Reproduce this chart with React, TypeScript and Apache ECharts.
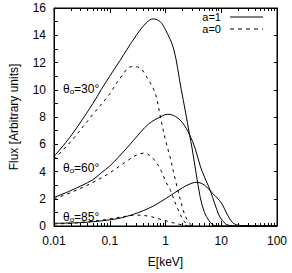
import React, { useEffect, useRef } from 'react';
import * as echarts from 'echarts';

// Energies (keV) and flux values
const e30a1 = [0.01, 0.02, 0.05, 0.07, 0.1, 0.15, 0.2, 0.3, 0.45, 0.6, 0.8, 1, 1.4, 1.9, 2.3, 2.7, 3, 3.5, 4.2, 5, 6, 7, 8, 10, 100];
const f30a1 = [5.1, 6.6, 9.0, 10.0, 11.0, 12.1, 12.9, 14.0, 14.9, 15.2, 15.0, 14.4, 13.0, 10.1, 8.3, 6.7, 5.7, 4.0, 2.1, 1.0, 0.4, 0.1, 0.02, 0, 0];

const e30a0 = [0.01, 0.02, 0.05, 0.1, 0.15, 0.25, 0.35, 0.45, 0.62, 0.7, 0.81, 1.0, 1.2, 1.5, 2.1, 2.5, 3, 3.5];
const f30a0 = [4.9, 6.2, 8.2, 9.7, 10.8, 11.7, 11.6, 11.0, 10.0, 9.3, 8.0, 6.3, 5.1, 3.4, 1.1, 0.4, 0.05, 0];

const e60a1 = [0.01, 0.02, 0.05, 0.07, 0.1, 0.2, 0.36, 0.5, 0.8, 1.1, 1.5, 2, 2.7, 3.4, 4.2, 5, 6, 7, 8, 9.5, 12, 15, 20, 100];
const f60a1 = [2.1, 2.6, 3.4, 3.9, 4.4, 5.7, 6.9, 7.5, 8.0, 8.2, 8.05, 7.6, 6.7, 5.7, 4.4, 3.6, 2.85, 2.1, 1.4, 0.65, 0.15, 0.03, 0, 0];

const e60a0 = [0.01, 0.02, 0.05, 0.1, 0.2, 0.3, 0.42, 0.55, 0.7, 0.85, 1.0, 1.23, 1.6, 2.1, 2.5, 3];
const f60a0 = [2.0, 2.45, 3.2, 3.9, 4.75, 5.2, 5.35, 5.1, 4.6, 4.0, 3.3, 2.6, 1.4, 0.4, 0.12, 0];

const e85a1 = [0.01, 0.03, 0.1, 0.2, 0.5, 1, 2, 3, 3.7, 5, 7, 10, 13, 16, 20, 30, 100];
const f85a1 = [0.2, 0.25, 0.45, 0.7, 1.3, 2.0, 2.8, 3.15, 3.2, 3.0, 2.4, 1.7, 0.8, 0.25, 0.06, 0, 0];

const e85a0 = [0.01, 0.02, 0.05, 0.1, 0.2, 0.3, 0.5, 0.8, 1.2, 1.8, 2.5, 3];
const f85a0 = [0.15, 0.2, 0.35, 0.52, 0.72, 0.8, 0.72, 0.5, 0.3, 0.12, 0.03, 0];

const xMajor = [0.01, 0.1, 1, 10, 100];
const xMinor = [0.02, 0.03, 0.04, 0.05, 0.06, 0.07, 0.08, 0.09, 0.2, 0.3, 0.4, 0.5, 0.6, 0.7, 0.8, 0.9, 2, 3, 4, 5, 6, 7, 8, 9, 20, 30, 40, 50, 60, 70, 80, 90];

const angleLabels = ['30', '60', '85'];
const legendNames = ['a=1', 'a=0'];

const FONT = 'Liberation Sans, Arial, sans-serif';

const zip = (xs: number[], ys: number[]) => xs.map((x, i) => [x, ys[i]]);

export default function App() {
  const ref = useRef<HTMLDivElement>(null);
  useEffect(() => {
    document.body.style.margin = '0';
    const chart = echarts.init(ref.current!, undefined, { renderer: 'svg' });
    const black = '#000';
    const solid = { color: black, width: 1, type: 'solid' as const };
    const dashed = { color: black, width: 1, type: [3, 4] as any };
    const mk = (name: string, xs: number[], ys: number[], ls: any) => ({
      type: 'line', name, data: zip(xs, ys), showSymbol: false, symbol: 'none', smooth: 0.35,
      lineStyle: ls, itemStyle: { color: black }, xAxisIndex: 0, yAxisIndex: 0,
    });
    const baseX = { type: 'log', min: 0.01, max: 100, logBase: 10, splitLine: { show: false } };
    const labelYs = [82, 161, 210];
    const legendYs = [17, 29];
    const legendGraphics: any[] = [];
    legendNames.forEach((n, i) => {
      legendGraphics.push({
        type: 'text', x: 221, y: legendYs[i], z: 10,
        style: { text: n, align: 'right', verticalAlign: 'middle', textAlign: 'right', textVerticalAlign: 'middle', fontSize: 11, fontFamily: FONT, fill: black },
      });
      legendGraphics.push({
        type: 'line', z: 10,
        shape: { x1: 230, y1: legendYs[i], x2: 263, y2: legendYs[i] },
        style: { stroke: black, lineWidth: 1, lineDash: i === 0 ? null : [4, 4] },
      });
    });
    chart.setOption({
      animation: false,
      grid: { left: 53, right: 15, top: 8, bottom: 44, show: true, borderColor: black, borderWidth: 1 },
      xAxis: [
        {
          ...baseX, position: 'bottom',
          axisLine: { show: true, lineStyle: { color: black } },
          axisTick: { show: true, inside: true, length: 5, lineStyle: { color: black } },
          axisLabel: { show: true, color: black, fontSize: 12, fontFamily: FONT, margin: 9, formatter: (v: number) => String(v) },
          name: 'E[keV]', nameLocation: 'middle', nameGap: 30,
          nameTextStyle: { color: black, fontSize: 12, fontFamily: FONT },
        },
        {
          ...baseX, position: 'bottom', axisLine: { show: false }, axisLabel: { show: false },
          axisTick: { show: true, inside: true, length: 3, customValues: xMinor, lineStyle: { color: black } },
        },
        {
          ...baseX, position: 'top', axisLine: { show: true, lineStyle: { color: black } }, axisLabel: { show: false },
          axisTick: { show: true, inside: true, length: 5, customValues: xMajor, lineStyle: { color: black } },
        },
        {
          ...baseX, position: 'top', axisLine: { show: false }, axisLabel: { show: false },
          axisTick: { show: true, inside: true, length: 3, customValues: xMinor, lineStyle: { color: black } },
        },
      ],
      yAxis: [
        {
          type: 'value', min: 0, max: 16, interval: 2, position: 'left',
          splitLine: { show: false },
          axisLine: { show: true, lineStyle: { color: black } },
          axisTick: { show: true, inside: true, length: 4, lineStyle: { color: black } },
          minorTick: { show: true, splitNumber: 2, length: 4, lineStyle: { color: black } },
          axisLabel: { color: black, fontSize: 12, fontFamily: FONT, margin: 8 },
          name: 'Flux [Arbitrary units]', nameLocation: 'middle', nameGap: 34,
          nameTextStyle: { color: black, fontSize: 12, fontFamily: FONT },
        },
        {
          type: 'value', min: 0, max: 16, interval: 2, position: 'right',
          splitLine: { show: false },
          axisLine: { show: true, lineStyle: { color: black } },
          axisTick: { show: true, inside: true, length: 3, lineStyle: { color: black } },
          axisLabel: { show: false },
        },
      ],
      series: [
        mk('a=1', e30a1, f30a1, solid),
        mk('a=0', e30a0, f30a0, dashed),
        mk('a=1', e60a1, f60a1, solid),
        mk('a=0', e60a0, f60a0, dashed),
        mk('a=1', e85a1, f85a1, solid),
        mk('a=0', e85a0, f85a0, dashed),
      ],
      graphic: [
        ...angleLabels.map((a, i) => ({
          type: 'text', left: 63, top: labelYs[i], z: 10,
          style: {
            text: `{t|θ}{s|o}{t|=${a}°}`,
            rich: {
              t: { fontSize: 12, fontFamily: FONT, fill: black, lineHeight: 14, verticalAlign: 'bottom' },
              s: { fontSize: 8, fontFamily: FONT, fill: black, lineHeight: 14, verticalAlign: 'bottom', padding: [5, 0, 0, 0] },
            },
          },
        })),
        ...legendGraphics,
      ],
    });
    return () => chart.dispose();
  }, []);
  return <div ref={ref} style={{ width: 292, height: 273 }} />;
}
